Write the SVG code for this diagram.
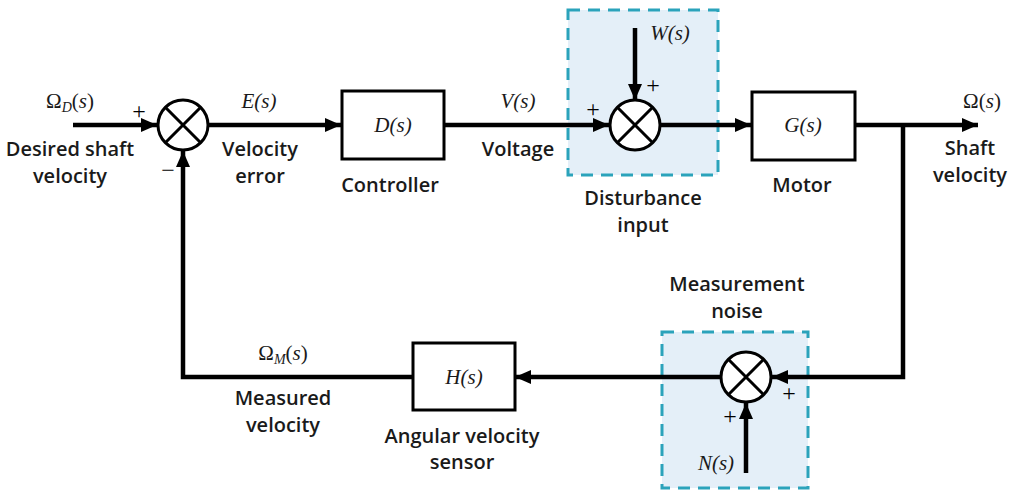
<svg xmlns="http://www.w3.org/2000/svg" width="1018" height="491" viewBox="0 0 1018 491">
<style>
.lbl{font-family:"Open Sans","Noto Sans",sans-serif;font-size:20px;font-weight:600;fill:#1a1a1a;text-anchor:middle}
.m{font-family:"Liberation Serif",serif;font-style:italic;font-size:21px;fill:#1a1a1a;text-anchor:middle}
.mu{font-family:"Liberation Serif",serif;font-size:21px;fill:#1a1a1a;text-anchor:middle}
.sub{font-style:italic;font-size:14px}
.sg{font-family:"Liberation Serif",serif;font-size:24px;fill:#000;text-anchor:middle}
.w{stroke:#000;stroke-width:4.5;fill:none}
.blk{fill:#fff;stroke:#000;stroke-width:3}
.sum{fill:#fff;stroke:#000;stroke-width:3}
.dash{fill:#e4eff8;stroke:#2ba3bb;stroke-width:3;stroke-dasharray:12 8}
</style>
<defs>
<marker id="ah" viewBox="0 0 16 14" refX="16" refY="7" markerWidth="16" markerHeight="14" markerUnits="userSpaceOnUse" orient="auto">
<path d="M0,0 L16,7 L0,14 Z" fill="#000"/>
</marker>
</defs>
<rect x="0" y="0" width="1018" height="491" fill="#fff"/>
<g id="disturbance-box"><rect class="dash" x="568" y="10" width="150" height="165"/></g>
<g id="noise-box"><rect class="dash" x="662" y="332" width="146" height="156"/></g>
<g id="connectors">
<line class="w" x1="73" y1="125" x2="157" y2="125" marker-end="url(#ah)"/>
<line class="w" x1="209" y1="125" x2="341" y2="125" marker-end="url(#ah)"/>
<line class="w" x1="444" y1="125" x2="609" y2="125" marker-end="url(#ah)"/>
<line class="w" x1="635" y1="28" x2="635" y2="100" marker-end="url(#ah)"/>
<line class="w" x1="661" y1="125" x2="751" y2="125" marker-end="url(#ah)"/>
<line class="w" x1="855" y1="125" x2="978" y2="125" marker-end="url(#ah)"/>
<polyline class="w" points="903,125 903,377 772,377" marker-end="url(#ah)"/>
<line class="w" x1="746" y1="473" x2="746" y2="403" marker-end="url(#ah)"/>
<line class="w" x1="720" y1="377" x2="515" y2="377" marker-end="url(#ah)"/>
<polyline class="w" points="412,377 183,377 183,151" marker-end="url(#ah)"/>
</g>
<g id="sum1">
<circle class="sum" cx="183" cy="125" r="25"/>
<path d="M165.3,107.3 L200.7,142.7 M200.7,107.3 L165.3,142.7" stroke="#000" stroke-width="3"/>
</g>
<g id="sum2">
<circle class="sum" cx="635" cy="125" r="25"/>
<path d="M617.3,107.3 L652.7,142.7 M652.7,107.3 L617.3,142.7" stroke="#000" stroke-width="3"/>
</g>
<g id="sum3">
<circle class="sum" cx="746" cy="377" r="25"/>
<path d="M728.3,359.3 L763.7,394.7 M763.7,359.3 L728.3,394.7" stroke="#000" stroke-width="3"/>
</g>
<g id="controller">
<rect class="blk" x="342" y="91" width="102" height="68"/>
<text class="m" x="393" y="132">D(s)</text>
<text class="lbl" x="390" y="192">Controller</text>
</g>
<g id="motor">
<rect class="blk" x="752" y="92" width="103" height="68"/>
<text class="m" x="803" y="132">G(s)</text>
<text class="lbl" x="802" y="192">Motor</text>
</g>
<g id="sensor">
<rect class="blk" x="413" y="343" width="102" height="67"/>
<text class="m" x="464" y="384">H(s)</text>
<text class="lbl" x="462" y="443">Angular velocity</text>
<text class="lbl" x="462" y="469">sensor</text>
</g>
<g id="labels">
<text class="mu" x="70" y="108">Ω<tspan class="sub" dy="4">D</tspan><tspan dy="-4">(</tspan><tspan font-style="italic">s</tspan>)</text>
<text class="sg" x="139" y="119">+</text>
<text class="sg" x="168" y="178">−</text>
<text class="lbl" x="70" y="156">Desired shaft</text>
<text class="lbl" x="70" y="183">velocity</text>
<text class="m" x="259" y="108">E(s)</text>
<text class="lbl" x="260" y="156">Velocity</text>
<text class="lbl" x="260" y="183">error</text>
<text class="m" x="518" y="108">V(s)</text>
<text class="lbl" x="518" y="156">Voltage</text>
<text class="sg" x="593" y="117">+</text>
<text class="m" x="670" y="40">W(s)</text>
<text class="sg" x="653" y="93">+</text>
<text class="lbl" x="643" y="205">Disturbance</text>
<text class="lbl" x="643" y="232">input</text>
<text class="mu" x="982" y="108">Ω(<tspan font-style="italic">s</tspan>)</text>
<text class="lbl" x="970" y="155">Shaft</text>
<text class="lbl" x="970" y="182">velocity</text>
<text class="lbl" x="737" y="291">Measurement</text>
<text class="lbl" x="737" y="318">noise</text>
<text class="sg" x="789" y="401">+</text>
<text class="sg" x="730" y="424">+</text>
<text class="m" x="716" y="470">N(s)</text>
<text class="mu" x="283" y="360">Ω<tspan class="sub" dy="4">M</tspan><tspan dy="-4">(</tspan><tspan font-style="italic">s</tspan>)</text>
<text class="lbl" x="283" y="405">Measured</text>
<text class="lbl" x="283" y="432">velocity</text>
</g>
</svg>
